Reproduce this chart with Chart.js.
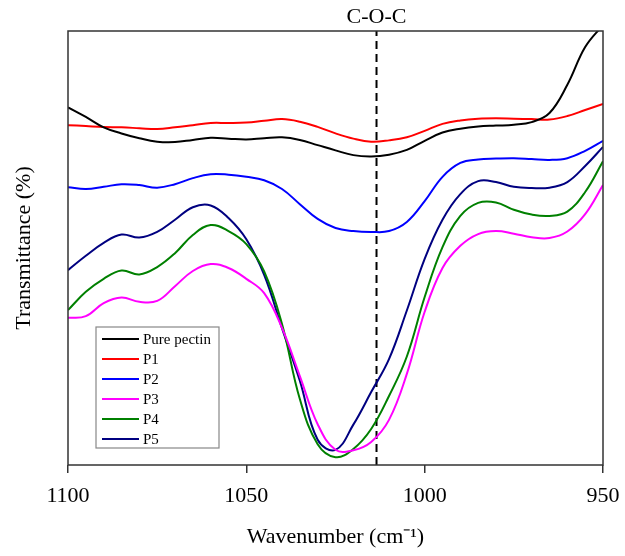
<!DOCTYPE html>
<html>
<head>
<meta charset="utf-8">
<script src="https://cdn.jsdelivr.net/npm/chart.js@4/dist/chart.umd.min.js"></script>
<style>
  html, body { margin: 0; padding: 0; background: #fff; }
  #wrap { width: 625px; height: 556px; }
</style>
</head>
<body>
<div id="wrap"><canvas id="ftir" width="625" height="556"></canvas></div>
<script>
// wavenumber grid (cm-1), every 5 units
const wavenumbers = [1100, 1095, 1090, 1085, 1080, 1075, 1070, 1065, 1060, 1055, 1050,
    1045, 1040, 1035, 1030, 1025, 1020, 1015, 1010, 1005, 1000,
    995, 990, 985, 980, 975, 970, 965, 960, 955, 950];

const purePectin = [82.4, 80.2, 77.8, 76.4, 75.3, 74.5, 74.4, 74.9, 75.4, 75.2, 75.0,
    75.3, 75.5, 74.9, 73.7, 72.5, 71.4, 71.1, 71.5, 72.6, 74.7,
    76.6, 77.5, 78.0, 78.2, 78.4, 79.0, 81.1, 87.6, 96.3, 101.4];
const p1 = [78.3, 78.1, 77.9, 77.8, 77.6, 77.4, 77.8, 78.3, 78.8, 78.8, 78.9,
    79.3, 79.7, 79.1, 77.9, 76.4, 75.2, 74.5, 74.8, 75.5, 77.0,
    78.6, 79.4, 79.8, 79.9, 79.8, 79.7, 79.6, 80.4, 81.8, 83.2];
const p2 = [64.0, 63.6, 64.1, 64.7, 64.5, 63.9, 64.7, 66.1, 67.0, 66.9, 66.4,
    65.6, 63.6, 60.1, 56.7, 54.6, 53.9, 53.7, 53.9, 56.0, 60.8,
    66.4, 69.6, 70.4, 70.6, 70.7, 70.5, 70.3, 70.7, 72.4, 74.7];
const p3 = [33.9, 34.3, 37.3, 38.6, 37.6, 37.8, 41.2, 44.7, 46.3, 45.4, 42.9,
    39.6, 31.6, 20.5, 9.4, 3.5, 3.4, 5.3, 10.4, 21.0, 35.3,
    45.4, 50.5, 53.2, 53.9, 53.3, 52.5, 52.3, 53.8, 57.8, 64.5];
const p4 = [35.7, 39.9, 42.9, 44.8, 43.9, 45.6, 48.8, 53.0, 55.3, 53.9, 50.9,
    44.6, 32.5, 15.2, 4.8, 1.8, 3.7, 8.3, 15.9, 25.0, 38.7,
    50.2, 57.4, 60.4, 60.5, 58.8, 57.7, 57.4, 58.4, 62.9, 70.0];
const p5 = [44.9, 48.2, 51.2, 53.1, 52.4, 53.7, 56.5, 59.4, 59.8, 56.9, 52.0,
    43.8, 31.5, 19.4, 5.8, 3.5, 9.3, 16.8, 24.4, 35.6, 47.5,
    56.5, 62.4, 65.4, 65.2, 64.1, 63.8, 63.9, 65.2, 68.9, 73.3];

const seriesNames = ['Pure pectin', 'P1', 'P2', 'P3', 'P4', 'P5'];
const seriesValues = [purePectin, p1, p2, p3, p4, p5];
const seriesColors = ['#000000', '#ff0000', '#0000ff', '#ff00ff', '#008000', '#000080'];

const xTicks = [1100, 1050, 1000, 950];
const cocPosition = 1013.5;
const cocLabel = 'C-O-C';

const serif = 'Liberation Serif, Times New Roman, serif';

function toPoints(values) {
    return wavenumbers.map((wn, i) => ({ x: wn, y: values[i] }));
}

const datasets = seriesNames.map((name, i) => ({
    label: name,
    data: toPoints(seriesValues[i]),
    borderColor: seriesColors[i],
    backgroundColor: seriesColors[i],
    borderWidth: 2,
    pointRadius: 0,
    fill: false,
    tension: 0.4
}));

// dashed marker line for the C-O-C band
datasets.push({
    label: cocLabel,
    data: [{ x: cocPosition, y: 0 }, { x: cocPosition, y: 100 }],
    borderColor: '#000',
    borderWidth: 2,
    borderDash: [8, 5],
    pointRadius: 0,
    fill: false
});

// frame, band label and legend box inside the plot
const decorPlugin = {
    id: 'decor',
    afterDraw(chart) {
        const ctx = chart.ctx;
        const a = chart.chartArea;
        const xs = chart.scales.x;
        ctx.save();
        ctx.strokeStyle = '#333';
        ctx.lineWidth = 1.5;
        ctx.strokeRect(a.left, a.top, a.right - a.left, a.bottom - a.top);

        ctx.fillStyle = '#000';
        ctx.font = '22px ' + serif;
        ctx.textAlign = 'center';
        ctx.textBaseline = 'alphabetic';
        ctx.fillText(cocLabel, xs.getPixelForValue(cocPosition), a.top - 8);

        // legend
        const lx = 96, ly = 327, lw = 123, lh = 121;
        ctx.fillStyle = '#fff';
        ctx.fillRect(lx, ly, lw, lh);
        ctx.strokeStyle = '#888';
        ctx.lineWidth = 1.2;
        ctx.strokeRect(lx, ly, lw, lh);
        ctx.font = '15px ' + serif;
        ctx.textAlign = 'left';
        ctx.textBaseline = 'middle';
        seriesNames.forEach((name, i) => {
            const y = ly + 12 + i * 20;
            ctx.strokeStyle = seriesColors[i];
            ctx.lineWidth = 2;
            ctx.beginPath();
            ctx.moveTo(lx + 6, y);
            ctx.lineTo(lx + 43, y);
            ctx.stroke();
            ctx.fillStyle = '#000';
            ctx.fillText(name, lx + 47, y + 1);
        });
        ctx.restore();
    }
};

new Chart(document.getElementById('ftir').getContext('2d'), {
    type: 'line',
    data: { datasets: datasets },
    options: {
        responsive: false,
        animation: false,
        layout: { padding: { top: 31, right: 22, left: 0, bottom: 0 } },
        plugins: {
            legend: { display: false },
            tooltip: { enabled: false }
        },
        scales: {
            x: {
                type: 'linear',
                reverse: true,
                min: 950,
                max: 1100,
                afterBuildTicks: scale => { scale.ticks = xTicks.map(v => ({ value: v })); },
                afterFit: scale => {
                    scale.height = 91;
                    scale.paddingLeft = 0;
                    scale.paddingRight = 0;
                },
                ticks: {
                    color: '#000',
                    font: { family: serif, size: 22 },
                    padding: 10,
                    maxRotation: 0,
                    callback: v => String(v)
                },
                grid: {
                    drawOnChartArea: false,
                    drawTicks: true,
                    tickLength: 8,
                    color: '#333',
                    lineWidth: 1.5
                },
                border: { display: false },
                title: {
                    display: true,
                    text: 'Wavenumber (cm\u207B\u00B9)',
                    color: '#000',
                    font: { family: serif, size: 22 },
                    padding: { top: 0, bottom: 6 }
                }
            },
            y: {
                min: 0,
                max: 100,
                afterFit: scale => { scale.width = 68; },
                ticks: { display: false },
                grid: { display: false },
                border: { display: false },
                title: {
                    display: true,
                    text: 'Transmittance (%)',
                    color: '#000',
                    font: { family: serif, size: 22 },
                    padding: { top: 11, bottom: 0 }
                }
            }
        }
    },
    plugins: [decorPlugin]
});
</script>
</body>
</html>
